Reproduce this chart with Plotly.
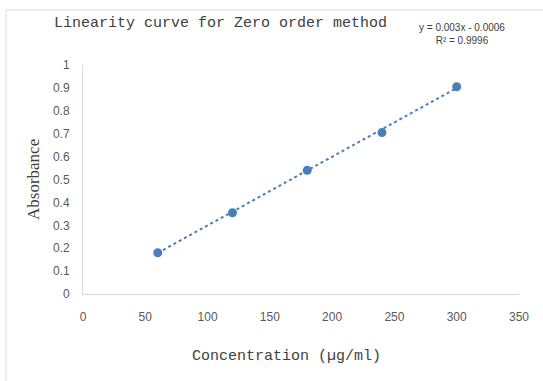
import plotly.graph_objects as go

concentration = [60, 120, 180, 240, 300]
absorbance = [0.18, 0.355, 0.54, 0.705, 0.905]
slope = 0.003
intercept = -0.0006
x_ticks = [0, 50, 100, 150, 200, 250, 300, 350]
y_ticks = [0, 0.1, 0.2, 0.3, 0.4, 0.5, 0.6, 0.7, 0.8, 0.9, 1]
y_tick_text = ["0", "0.1", "0.2", "0.3", "0.4", "0.5", "0.6", "0.7", "0.8", "0.9", "1"]

W, H = 543, 381
L, R, T, B = 83, 24, 65, 87
pw, ph = W - L - R, H - T - B

def px(x):
    return (x - L) / pw

def py(y):
    return (H - B - y) / ph

trend_x = [concentration[0], concentration[-1]]
trend_y = [slope * v + intercept for v in trend_x]

blue = "#4a7ebb"
fig = go.Figure()
fig.add_trace(go.Scatter(x=trend_x, y=trend_y, mode="lines",
                         line=dict(color=blue, width=2, dash="dot"),
                         hoverinfo="skip", showlegend=False))
fig.add_trace(go.Scatter(x=concentration, y=absorbance, mode="markers",
                         marker=dict(color=blue, size=9),
                         showlegend=False))

tick_font = dict(family="Liberation Sans Narrow, Liberation Sans, sans-serif", size=12, color="#595959")
fig.update_layout(
    width=W, height=H,
    margin=dict(l=L, r=R, t=T, b=B),
    paper_bgcolor="white", plot_bgcolor="white",
    xaxis=dict(range=[0, 350], tickvals=x_ticks, showgrid=False, zeroline=False,
               showline=True, linecolor="#d9d9d9", linewidth=1,
               ticks="", tickfont=tick_font, ticklabelstandoff=12, fixedrange=True),
    yaxis=dict(range=[0, 1], tickvals=y_ticks, ticktext=y_tick_text, showgrid=False, zeroline=False,
               showline=True, linecolor="#d9d9d9", linewidth=1,
               ticks="", tickfont=tick_font, ticklabelstandoff=10, fixedrange=True),
    shapes=[dict(type="rect", xref="paper", yref="paper",
                 x0=px(6), x1=px(600), y0=py(450), y1=py(10),
                 line=dict(color="#d9d9d9", width=1), fillcolor="rgba(0,0,0,0)", layer="below")],
    annotations=[
        dict(text="Linearity curve for Zero order method", xref="paper", yref="paper",
             x=px(220), y=py(23), showarrow=False, xanchor="center", yanchor="middle",
             font=dict(family="Liberation Mono, monospace", size=15, color="#404040")),
        dict(text="y = 0.003x - 0.0006<br>R² = 0.9996", xref="paper", yref="paper",
             x=px(462), y=py(34), showarrow=False, xanchor="center", yanchor="middle", align="center",
             font=dict(family="Liberation Sans Narrow, Liberation Sans, sans-serif", size=10, color="#404040")),
        dict(text="Concentration (µg/ml)", xref="paper", yref="paper",
             x=px(286), y=py(357), showarrow=False, xanchor="center", yanchor="middle",
             font=dict(family="Liberation Mono, monospace", size=15, color="#404040")),
        dict(text="Absorbance", xref="paper", yref="paper", textangle=-90,
             x=px(33), y=py(180), showarrow=False, xanchor="center", yanchor="middle",
             font=dict(family="Liberation Serif, serif", size=17, color="#404040")),
    ],
)
fig.write_html("out.html", config={"displayModeBar": False},
               post_script="document.body.style.margin='0';document.body.style.padding='0';")
